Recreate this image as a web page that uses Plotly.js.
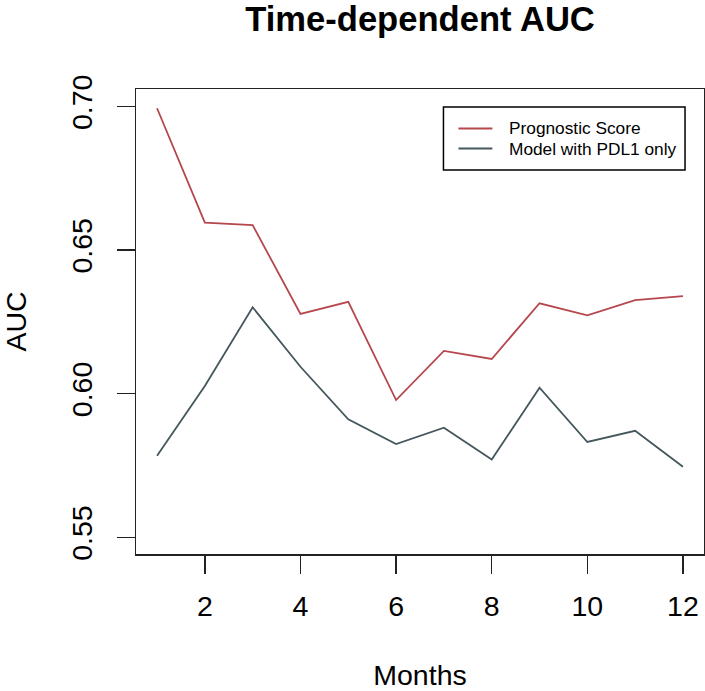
<!DOCTYPE html>
<html>
<head>
<meta charset="utf-8">
<script src="https://cdn.plot.ly/plotly-3.0.1.min.js"></script>
<style>html,body{margin:0;padding:0;background:#fff;}#chart{width:705px;height:691px;}</style>
</head>
<body>
<div id="chart"></div>
<script>
const months = [1, 2, 3, 4, 5, 6, 7, 8, 9, 10, 11, 12];
const prognosticScore = [0.6994, 0.6596, 0.6587, 0.6278, 0.6320, 0.5978, 0.6149, 0.6121, 0.6315, 0.6273, 0.6326, 0.6340];
const pdl1Only = [0.5784, 0.6027, 0.6301, 0.6094, 0.5911, 0.5825, 0.5882, 0.5771, 0.6021, 0.5832, 0.5871, 0.5746];
const seriesNames = ["Prognostic Score", "Model with PDL1 only"];
const xTicks = [2, 4, 6, 8, 10, 12];
const yTicks = [0.55, 0.60, 0.65, 0.70];
const yTickLabels = ["0.55", "0.60", "0.65", "0.70"];

const FONT = "Liberation Sans, Arial, Helvetica, sans-serif";
const RED = "#b5474d";
const GREY = "#44575d";

const traces = [
  {x: months, y: prognosticScore, name: seriesNames[0], type: "scatter", mode: "lines",
   line: {color: RED, width: 1.8}, showlegend: false},
  {x: months, y: pdl1Only, name: seriesNames[1], type: "scatter", mode: "lines",
   line: {color: GREY, width: 1.8}, showlegend: false}
];

const legX0 = 0.5413, legX1 = 0.9666, legY0 = 0.8258, legY1 = 0.9613;
const segX0 = 0.5677, segX1 = 0.6274, textX = 0.6538;
const rowY = [0.9151, 0.8720];
const colors = [RED, GREY];

const shapes = [
  {type: "rect", xref: "paper", yref: "paper", x0: legX0, x1: legX1, y0: legY0, y1: legY1,
   line: {color: "#000", width: 1.5}, fillcolor: "rgba(0,0,0,0)"}
];
const annotations = [];
seriesNames.forEach((n, i) => {
  shapes.push({type: "line", xref: "paper", yref: "paper", x0: segX0, x1: segX1, y0: rowY[i], y1: rowY[i],
    line: {color: colors[i], width: 1.8}});
  annotations.push({xref: "paper", yref: "paper", x: textX, y: rowY[i], xanchor: "left", yanchor: "middle",
    text: n, showarrow: false, font: {family: FONT, size: 17.3, color: "#000"}});
});

const layout = {
  width: 705, height: 691,
  margin: {l: 136, r: 1, t: 89, b: 137, pad: 0},
  paper_bgcolor: "#fff", plot_bgcolor: "#fff",
  font: {family: FONT, color: "#000"},
  title: {text: "<b>Time-dependent AUC</b>", font: {family: FONT, size: 34.6, color: "#000"},
    x: 0.5, xref: "paper", y: 0.972, yref: "container", yanchor: "middle"},
  xaxis: {
    range: [0.56, 12.44], tickvals: xTicks, ticktext: xTicks.map(String),
    ticks: "outside", ticklen: 18, tickwidth: 1.5, tickcolor: "#222",
    showline: true, linecolor: "#222", linewidth: 1.5, mirror: true,
    showgrid: false, zeroline: false,
    tickfont: {family: FONT, size: 28.5, color: "#000"}, ticklabelstandoff: 8,
    title: {text: "Months", font: {family: FONT, size: 28.5, color: "#000"}, standoff: 50}
  },
  yaxis: {
    range: [0.5442, 0.7061], tickvals: yTicks, ticktext: yTickLabels, tickangle: -90,
    ticks: "outside", ticklen: 18, tickwidth: 1.5, tickcolor: "#222",
    showline: true, linecolor: "#222", linewidth: 1.5, mirror: true,
    showgrid: false, zeroline: false,
    tickfont: {family: FONT, size: 28.5, color: "#000"}, ticklabelstandoff: 13,
    title: {text: "AUC", font: {family: FONT, size: 28.5, color: "#000"}, standoff: 41}
  },
  shapes: shapes,
  annotations: annotations,
  showlegend: false
};

Plotly.newPlot("chart", traces, layout, {displayModeBar: false, staticPlot: true});
</script>
</body>
</html>
